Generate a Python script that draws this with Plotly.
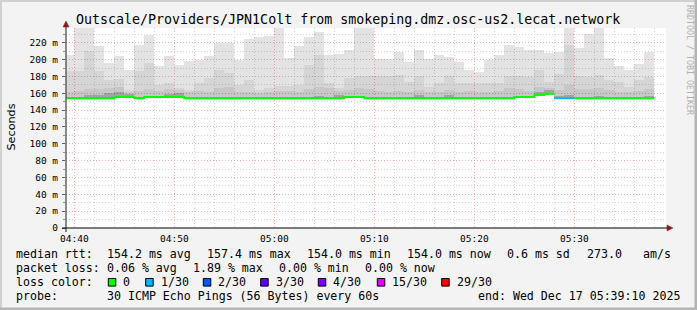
import plotly.graph_objects as go
import pandas as pd

# ---------------- data ----------------
minutes = ["04:39","04:40","04:41","04:42","04:43","04:44","04:45","04:46","04:47","04:48","04:49",
           "04:50","04:51","04:52","04:53","04:54","04:55","04:56","04:57","04:58","04:59",
           "05:00","05:01","05:02","05:03","05:04","05:05","05:06","05:07","05:08","05:09",
           "05:10","05:11","05:12","05:13","05:14","05:15","05:16","05:17","05:18","05:19",
           "05:20","05:21","05:22","05:23","05:24","05:25","05:26","05:27","05:28","05:29",
           "05:30","05:31","05:32","05:33","05:34","05:35","05:36","05:37"]

# smoke levels (ms) per minute: max ping, upper quantiles, core, min
smoke_top = [205,245,245,216,196,204,188,218,229,192,204,194,198,200,204,220,220,200,224,227,228,
             245,202,216,227,233,206,207,212,245,245,
             201,201,209,197,211,201,205,203,197,188,
             185,200,206,218,215,211,212,208,209,245,
             214,231,245,202,192,188,195,209]
smoke_mid = [186,186,210,186,176,177,164,186,196,170,172,166,164,172,178,188,184,170,176,164,166,
             169,169,170,194,206,172,166,178,180,180,
             180,180,182,173,181,168,172,180,172,172,
             172,172,172,180,180,179,188,174,183,218,
             180,179,182,176,174,168,176,179]
smoke_low = [162,163,165,165,166,168,161,163,165,163,165,164,161,163,162,166,168,162,162,160,161,
             163,163,162,165,168,166,163,164,166,165,
             163,162,163,161,164,161,162,164,162,163,
             161,162,163,166,165,163,168,166,164,170,
             165,165,166,164,162,161,163,165]
smoke_core = [156,156,158,158,160,162,159,156,156.5,156,159,160,156,156,156,156,156,156,156,156,156,
              156,156,156,156,157,156,158,157,157,156,
              156,156,156,156,157.5,156,156,157.5,156,156,
              156,156,156,156,157,157,162,164,157,158,
              156,156,157,156,156,156,156,157]
smoke_min = [153.5,153.5,153.5,153.5,153.5,154.0,154.0,153.5,154.0,154.0,154.0,154.0,153.5,153.5,153.5,153.5,153.5,153.5,153.5,153.5,153.5,
             153.5,153.5,153.5,153.5,153.5,153.5,153.5,154.0,154.0,153.5,
             153.5,153.5,153.5,153.5,153.5,153.5,153.5,153.5,153.5,153.5,
             153.5,153.5,153.5,153.5,154.0,154.0,156.5,158.0,153.5,153.5,
             153.5,153.5,153.5,153.5,153.5,153.5,153.5,153.5]
median = [154.2,154.2,154.2,154.2,154.2,155.5,155.5,154.2,155.5,155.5,155.5,155.5,154.2,154.2,154.2,154.2,154.2,154.2,154.2,154.2,154.2,
          154.2,154.2,154.2,154.2,154.2,154.2,154.2,155.5,155.5,154.2,
          154.2,154.2,154.2,154.2,154.2,154.2,154.2,154.2,154.2,154.2,
          154.2,154.2,154.2,154.2,155.5,155.5,158.0,159.6,154.2,154.2,
          154.2,154.2,154.2,154.2,154.2,154.2,154.2,154.2]
loss = [0,0,0,0,0,0,0,0,0,0,0,0,0,0,0,0,0,0,0,0,0,
        0,0,0,0,0,0,0,0,0,0,
        0,0,0,0,0,0,0,0,0,0,
        0,0,0,0,0,0,0,0,1,1,
        0,0,0,0,0,0,0,0]

loss_labels = ["0", "1/30", "2/30", "3/30", "4/30", "15/30", "29/30"]
loss_steps = [0, 1, 2, 3, 4, 15, 29]
loss_colors = ["#00ff00", "#00b8ff", "#0059ff", "#5e00ff", "#7e00ff", "#dd00ff", "#ff0000"]

y_tick_vals = [0, 20, 40, 60, 80, 100, 120, 140, 160, 180, 200, 220]
y_tick_text = ["0", "20 m", "40 m", "60 m", "80 m", "100 m", "120 m", "140 m",
               "160 m", "180 m", "200 m", "220 m"]

title_text = "Outscale/Providers/JPN1Colt from smokeping.dmz.osc-us2.lecat.network"
legend_rows = [
    [("median rtt:", 16), ("154.2 ms avg", 107.3), ("157.4 ms max", 207.3), ("154.0 ms min", 306.7),
     ("154.0 ms now", 407.3), ("0.6 ms sd", 507.3), ("273.0", 586.7), ("am/s", 642.7)],
    [("packet loss:", 16), ("0.06 % avg", 107.3), ("1.89 % max", 193.3), ("0.00 % min", 279.3),
     ("0.00 % now", 365)],
    [("loss color:", 16)],
    [("probe:", 16), ("30 ICMP Echo Pings (56 Bytes) every 60s", 107.3),
     ("end: Wed Dec 17 05:39:10 2025", 478.3)],
]
legend_box_x = [108.3, 145.7, 203.3, 260.7, 318.3, 377.3, 441.7]

# ---------------- layout geometry ----------------
W, H = 697, 310
L, R, T, B = 66, 31, 28, 82
PW, PH = W - L - R, H - T - B
Y0 = H - B


def px(x):
    return (x - L) / PW


def py(y):
    return (Y0 - y) / PH


day = "2025-12-17 "
times = pd.to_datetime([day + m for m in minutes])
ONE_MIN = 60000

fig = go.Figure()

bands = [
    (smoke_mid, smoke_top, "rgba(0,0,0,0.11)"),
    (smoke_low, smoke_mid, "rgba(0,0,0,0.165)"),
    (smoke_core, smoke_low, "rgba(0,0,0,0.22)"),
    (smoke_min, smoke_core, "rgba(0,0,0,0.36)"),
]
for lo, hi, col in bands:
    fig.add_trace(go.Bar(
        x=times, y=[h - l for l, h in zip(lo, hi)], base=lo,
        width=ONE_MIN, offset=0, marker=dict(color=col, line=dict(width=0)),
        showlegend=False, hoverinfo="skip"))


def loss_color(n):
    col = loss_colors[0]
    for s, c in zip(loss_steps, loss_colors):
        if n >= s:
            col = c
    return col


# median line segments by loss colour
runs = []
cur = None
for i, n in enumerate(loss):
    c = loss_color(n)
    if cur is None or cur[0] != c:
        cur = [c, [i]]
        runs.append(cur)
    else:
        cur[1].append(i)
for c, idx in runs:
    xs = [times[i] for i in idx] + [times[idx[-1]] + pd.Timedelta(minutes=1)]
    ys = [median[i] for i in idx] + [median[idx[-1]]]
    fig.add_trace(go.Scatter(x=xs, y=ys, mode="lines", line=dict(color=c, width=2, shape="hv"),
                             showlegend=False, hoverinfo="skip"))

mono = "DejaVu Sans Mono"
annotations = []
annotations.append(dict(text=title_text, x=px(348), y=py(19), xref="paper", yref="paper",
                        xanchor="center", yanchor="middle", showarrow=False,
                        font=dict(family=mono, size=13.3, color="#000")))
annotations.append(dict(text="Seconds", x=px(10.5), y=py(127), xref="paper", yref="paper",
                        xanchor="center", yanchor="middle", showarrow=False, textangle=-90,
                        font=dict(family="DejaVu Sans", size=11.2, color="#000")))
annotations.append(dict(text="RRDTOOL / TOBI OETIKER", x=px(690), y=py(60), xref="paper", yref="paper",
                        xanchor="center", yanchor="middle", showarrow=False, textangle=90,
                        font=dict(family=mono, size=8.3, color="#b0b0b0")))
row_y = [254.3, 268.3, 282.3, 296.3]
for row, yy in zip(legend_rows, row_y):
    for txt, xx in row:
        annotations.append(dict(text=txt, x=px(xx), y=py(yy), xref="paper", yref="paper",
                                xanchor="left", yanchor="middle", showarrow=False,
                                borderpad=0, borderwidth=0,
                                font=dict(family=mono, size=11.6, color="#000")))

shapes = []
for bx, lab, col in zip(legend_box_x, loss_labels, loss_colors):
    shapes.append(dict(type="rect", xref="paper", yref="paper",
                       x0=px(bx), x1=px(bx + 7.5), y0=py(row_y[2] - 3.8), y1=py(row_y[2] + 3.8),
                       fillcolor=col, line=dict(color="#000", width=1)))
    annotations.append(dict(text=lab, x=px(bx + 15), y=py(row_y[2]), xref="paper", yref="paper",
                            xanchor="left", yanchor="middle", showarrow=False,
                            borderpad=0, borderwidth=0,
                            font=dict(family=mono, size=11.6, color="#000")))

# axes lines and arrows
shapes.append(dict(type="line", xref="paper", yref="paper", x0=px(66), x1=px(66), y0=py(232), y1=py(24),
                   line=dict(color="#404040", width=1.2), layer="above"))
shapes.append(dict(type="line", xref="paper", yref="paper", x0=px(62), x1=px(670), y0=py(228), y1=py(228),
                   line=dict(color="#000", width=1.2), layer="above"))
arrow_col = "#8b1a1a"
shapes.append(dict(type="path", xref="paper", yref="paper", layer="above",
                   path=f"M {px(63)} {py(27)} L {px(69)} {py(27)} L {px(66)} {py(21)} Z",
                   fillcolor=arrow_col, line=dict(color=arrow_col, width=0.5)))
shapes.append(dict(type="path", xref="paper", yref="paper", layer="above",
                   path=f"M {px(667)} {py(225)} L {px(667)} {py(231)} L {px(673)} {py(228)} Z",
                   fillcolor=arrow_col, line=dict(color=arrow_col, width=0.5)))
# frame
shapes.append(dict(type="rect", xref="paper", yref="paper", x0=px(0), x1=px(697), y0=py(0), y1=py(2),
                   fillcolor="#d0d0d0", line=dict(width=0)))
shapes.append(dict(type="rect", xref="paper", yref="paper", x0=px(0), x1=px(2), y0=py(0), y1=py(310),
                   fillcolor="#d0d0d0", line=dict(width=0)))
shapes.append(dict(type="rect", xref="paper", yref="paper", x0=px(0), x1=px(697), y0=py(307.5), y1=py(310),
                   fillcolor="#b4b4b4", line=dict(width=0)))
shapes.append(dict(type="rect", xref="paper", yref="paper", x0=px(694.5), x1=px(697), y0=py(0), y1=py(310),
                   fillcolor="#b4b4b4", line=dict(width=0)))

major_grid = "#f4b0b0"
minor_grid = "#d6d6d6"
fig.update_layout(
    width=W, height=H, margin=dict(l=L, r=R, t=T, b=B),
    paper_bgcolor="#f3f3f3", plot_bgcolor="#ffffff",
    barmode="overlay", bargap=0, showlegend=False,
    annotations=annotations, shapes=shapes,
    xaxis=dict(type="date", range=[day + "04:39:10", day + "05:39:10"],
               tick0=day + "04:40", dtick=600000, tickformat="%H:%M",
               showgrid=True, gridcolor=major_grid, griddash="1px,2px", gridwidth=1,
               minor=dict(dtick=120000, tick0=day + "04:40", showgrid=True, gridcolor=minor_grid,
                          griddash="1px,2px", gridwidth=1),
               ticks="", showline=False, zeroline=False,
               tickfont=dict(family=mono, size=9.5, color="#000"), ticklabelstandoff=3),
    yaxis=dict(range=[0, 237.6], tickvals=y_tick_vals, ticktext=y_tick_text,
               showgrid=True, gridcolor=major_grid, griddash="1px,2px", gridwidth=1,
               minor=dict(dtick=10, tick0=0, showgrid=True, gridcolor=minor_grid,
                          griddash="1px,2px", gridwidth=1, ticks="outside", ticklen=2,
                          tickcolor="#909090"),
               ticks="outside", ticklen=3, tickcolor="#606060", showline=False, zeroline=False,
               tickfont=dict(family=mono, size=9.5, color="#000"), ticklabelstandoff=2),
)

fig.write_html("out.html")
